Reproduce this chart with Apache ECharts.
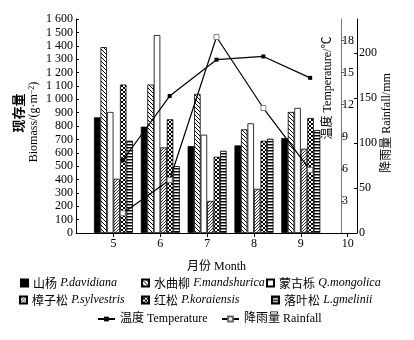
<!DOCTYPE html>
<html><head><meta charset="utf-8">
<script src="https://cdn.jsdelivr.net/npm/echarts@6/dist/echarts.min.js"></script>
<style>html,body{margin:0;padding:0;background:#fff}#c{width:414px;height:340px}</style>
</head><body><div id="c"></div>
<script>
// ---- data ----
const months = [5, 6, 7, 8, 9];
const xTickLabels = [5, 6, 7, 8, 9, 10];
const davidiana   = [865, 795, 650, 655, 710];
const mandshurica = [1390, 1110, 1040, 775, 905];
const mongolica   = [905, 1480, 735, 820, 935];
const sylvestris  = [405, 640, 240, 330, 630];
const koraiensis  = [1110, 850, 570, 690, 860];
const gmelinii    = [690, 500, 615, 705, 770];
const temperature = [6.8, 12.8, 16.2, 16.5, 14.5];
const rainfall    = [22, 59, 218, 139, 70];
const biomassTicks = [0,100,200,300,400,500,600,700,800,900,1000,1100,1200,1300,1400,1500,1600];
const tempTicks = [3, 6, 9, 12, 15, 18];
const rainTicks = [0, 50, 100, 150, 200];
const speciesCn = ['山杨', '水曲柳', '蒙古栎', '樟子松', '红松', '落叶松'];
const speciesLa = ['P.davidiana', 'F.mandshurica', 'Q.mongolica', 'P.sylvestris', 'P.koraiensis', 'L.gmelinii'];
const lineNames = ['温度 Temperature', '降雨量 Rainfall'];

// ---- patterns ----
function pat(size, draw) {
  const c = document.createElement('canvas');
  c.width = c.height = size;
  const g = c.getContext('2d');
  g.fillStyle = '#fff'; g.fillRect(0, 0, size, size);
  g.strokeStyle = '#000'; g.fillStyle = '#000';
  draw(g, size);
  return { image: c, repeat: 'repeat' };
}
function line(g, a, b, c, d) { g.beginPath(); g.moveTo(a, b); g.lineTo(c, d); g.stroke(); }
const pBack = pat(4, (g, s) => { g.lineWidth = 1; line(g, -1, -1, 5, 5); line(g, -1, 3, 1, 5); line(g, 3, -1, 5, 1); });
const pSlash = pat(3, (g, s) => { g.lineWidth = 0.8; line(g, -1, 4, 4, -1); line(g, -1, 1, 1, -1); line(g, 2, 4, 4, 2); });
const pCross = pat(4, (g, s) => { g.lineWidth = 1; line(g, -1, -1, 5, 5); line(g, -1, 5, 5, -1); });
const pHoriz = pat(3, (g, s) => { g.fillStyle = '#000'; g.fillRect(0, 0, 3, 1); g.fillStyle = '#888'; g.fillRect(0, 1, 3, 1); });
const fills = ['#000', pBack, '#fff', pSlash, pCross, pHoriz];
const speciesData = [davidiana, mandshurica, mongolica, sylvestris, koraiensis, gmelinii];

const serif = "'Liberation Serif','Noto Sans CJK SC'";
const txt = { fontFamily: serif, fontSize: 12, color: '#000' };

const barSeries = speciesData.map((vals, i) => ({
  name: speciesLa[i], type: 'bar', xAxisIndex: 0, yAxisIndex: 0,
  barWidth: 6.5, barGap: '0%',
  itemStyle: { color: fills[i], borderColor: '#000', borderWidth: 0.8 },
  data: months.map((m, k) => [m, vals[k]]), z: 2
}));
const lineSeries = [
  { name: lineNames[0], type: 'line', xAxisIndex: 1, yAxisIndex: 1, symbol: 'rect', symbolSize: 4,
    lineStyle: { color: '#000', width: 1.2 }, itemStyle: { color: '#000' },
    data: months.map((m, k) => [m, temperature[k]]), z: 5 },
  { name: lineNames[1], type: 'line', xAxisIndex: 1, yAxisIndex: 2, symbol: 'rect', symbolSize: 5,
    lineStyle: { color: '#000', width: 1.2 }, itemStyle: { color: '#fff', borderColor: '#666', borderWidth: 0.8 },
    data: months.map((m, k) => [m, rainfall[k]]), z: 5 }
];

const legendPos = [[20, 277], [141, 277], [266, 277], [19, 294], [141, 294], [271, 294]];
const legends = speciesLa.map((n, i) => ({
  data: [n], left: legendPos[i][0], top: legendPos[i][1], padding: 0,
  icon: 'rect', itemWidth: 7, itemHeight: 7, itemGap: 0,
  formatter: () => '{c|' + speciesCn[i] + '} {l|' + speciesLa[i] + '}',
  textStyle: { fontSize: 12, color: '#000', rich: { c: { fontFamily: 'Noto Sans CJK SC', fontSize: 12 }, l: { fontFamily: 'Liberation Serif', fontStyle: 'italic', fontSize: 12 } } }
})).concat([
  { data: [lineNames[0]], left: 97, top: 313, padding: 0, itemWidth: 17, itemHeight: 6, textStyle: txt },
  { data: [lineNames[1]], left: 221, top: 313, padding: 0, itemWidth: 17, itemHeight: 6, textStyle: txt }
]);

const chart = echarts.init(document.getElementById('c'), null, { renderer: 'canvas' });
chart.setOption({
  animation: false,
  backgroundColor: '#fff',
  grid: { left: 76, right: 57, top: 19, bottom: 107 },
  legend: legends,
  xAxis: [
    { type: 'value', min: 4.2, max: 10.2, position: 'bottom',
      name: '月份 Month', nameLocation: 'middle', nameGap: 28, nameTextStyle: txt,
      axisLine: { lineStyle: { color: '#000', width: 1 } },
      axisTick: { show: true, length: 4, lineStyle: { color: '#000' }, customValues: xTickLabels },
      axisLabel: { ...txt, margin: 5, customValues: xTickLabels },
      splitLine: { show: false } },
    { type: 'value', min: 4.0, max: 10.0, show: false, splitLine: { show: false } }
  ],
  yAxis: [
    { type: 'value', min: 0, max: 1600, position: 'left',
      axisLine: { show: true, lineStyle: { color: '#000' } },
      axisTick: { show: true, inside: true, length: 3, lineStyle: { color: '#000' }, customValues: biomassTicks },
      axisLabel: { ...txt, margin: 3, customValues: biomassTicks,
        formatter: v => v >= 1000 ? Math.floor(v / 1000) + ' ' + String(v % 1000).padStart(3, '0') : String(v) },
      splitLine: { show: false } },
    { type: 'value', min: 0, max: 20, position: 'right', offset: -16,
      axisLine: { show: true, lineStyle: { color: '#777' } },
      axisTick: { show: true, inside: false, length: 3, lineStyle: { color: '#555' }, customValues: tempTicks },
      axisLabel: { ...txt, margin: 1, customValues: tempTicks },
      splitLine: { show: false } },
    { type: 'value', min: 0, max: 238, position: 'right', offset: 0,
      axisLine: { show: true, lineStyle: { color: '#000' } },
      axisTick: { show: true, inside: true, length: 3, lineStyle: { color: '#000' }, customValues: rainTicks },
      axisLabel: { ...txt, margin: 2, customValues: rainTicks },
      splitLine: { show: false } }
  ],
  graphic: [
    { type: 'text', x: 18, y: 113, rotation: Math.PI / 2,
      style: { text: '现存量', font: "bold 13px 'Noto Sans CJK SC'", fill: '#000', align: 'center', verticalAlign: 'middle' } },
    { type: 'text', x: 34, y: 122, rotation: Math.PI / 2,
      style: { text: 'Biomass/(g·m{sup|−2})', fontFamily: serif, fontSize: 12, fill: '#000', align: 'center', verticalAlign: 'middle',
        rich: { sup: { fontSize: 8, verticalAlign: 'top', fontFamily: serif } } } },
    { type: 'text', x: 328, y: 88, rotation: Math.PI / 2,
      style: { text: '温度 Temperature/℃', fontFamily: serif, fontSize: 12, fill: '#000', align: 'center', verticalAlign: 'middle' } },
    { type: 'text', x: 387, y: 123, rotation: Math.PI / 2,
      style: { text: '降雨量 Rainfall/mm', fontFamily: serif, fontSize: 12, fill: '#000', align: 'center', verticalAlign: 'middle' } }
  ],
  series: barSeries.concat(lineSeries)
});
</script>
</body></html>
